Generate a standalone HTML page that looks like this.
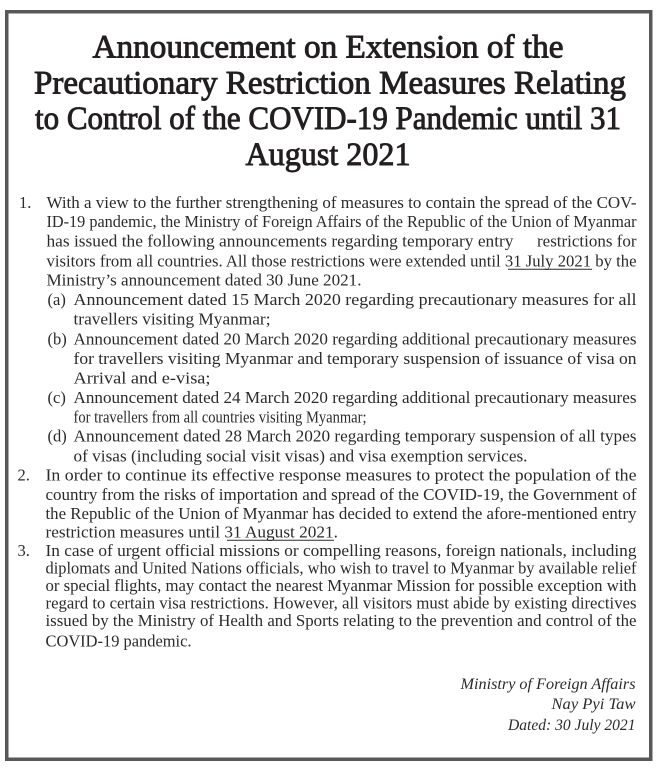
<!DOCTYPE html>
<html>
<head>
<meta charset="utf-8">
<style>
  html, body { margin: 0; padding: 0; background: #ffffff; }
  svg { display: block; }
  .t { font-family: "Liberation Serif", serif; font-size: 33px; fill: #231f20; stroke: #231f20; stroke-width: 0.9px; }
  .b { font-family: "Liberation Serif", serif; font-size: 16.5px; fill: #2b2b2b; }
  .n { font-family: "Liberation Serif", serif; font-size: 16.5px; fill: #2b2b2b; }
  .s { font-family: "Liberation Serif", serif; font-size: 16px; font-style: italic; fill: #2b2b2b; }
</style>
</head>
<body>
<svg width="666" height="777" viewBox="0 0 666 777" xmlns="http://www.w3.org/2000/svg">
  <rect x="0" y="0" width="666" height="777" fill="#ffffff"/>
  <rect x="6.75" y="11.75" width="644" height="747.5" fill="#ffffff" stroke="#58585a" stroke-width="3.5"/>

  <!-- Title -->
  <text class="t" x="92.5" y="57.3" textLength="471" lengthAdjust="spacingAndGlyphs">Announcement on Extension of the</text>
  <text class="t" x="34" y="93.3" textLength="592" lengthAdjust="spacingAndGlyphs">Precautionary Restriction Measures Relating</text>
  <text class="t" x="35" y="129" textLength="586" lengthAdjust="spacingAndGlyphs">to Control of the COVID-19 Pandemic until 31</text>
  <text class="t" x="245.5" y="165" textLength="165" lengthAdjust="spacingAndGlyphs">August 2021</text>

  <!-- Paragraph 1 -->
  <text class="n" x="19" y="208">1.</text>
  <text class="b" x="46.5" y="208" textLength="590" lengthAdjust="spacingAndGlyphs">With a view to the further strengthening of measures to contain the spread of the COV-</text>
  <text class="b" x="46.5" y="227" textLength="590" lengthAdjust="spacingAndGlyphs">ID-19 pandemic, the Ministry of Foreign Affairs of the Republic of the Union of Myanmar</text>
  <text class="b" x="46.5" y="246.5" textLength="467" lengthAdjust="spacingAndGlyphs">has issued the following announcements regarding temporary entry</text>
  <text class="b" x="537" y="246.5" textLength="99.5" lengthAdjust="spacingAndGlyphs">restrictions for</text>
  <text class="b" x="46.5" y="266.5" textLength="590" lengthAdjust="spacingAndGlyphs">visitors from all countries. All those restrictions were extended until 31 July 2021 by the</text>
  <line x1="508" y1="269.3" x2="592" y2="269.3" stroke="#2b2b2b" stroke-width="1"/>
  <text class="b" x="46.5" y="285.5" textLength="315" lengthAdjust="spacingAndGlyphs">Ministry’s announcement dated 30 June 2021.</text>

  <text class="n" x="47.5" y="305">(a)</text>
  <text class="b" x="73.5" y="305" textLength="563" lengthAdjust="spacingAndGlyphs">Announcement dated 15 March 2020 regarding precautionary measures for all</text>
  <text class="b" x="73.5" y="324.5" textLength="197" lengthAdjust="spacingAndGlyphs">travellers visiting Myanmar;</text>

  <text class="n" x="47.5" y="344.5">(b)</text>
  <text class="b" x="73.5" y="344.5" textLength="563" lengthAdjust="spacingAndGlyphs">Announcement dated 20 March 2020 regarding additional precautionary measures</text>
  <text class="b" x="73.5" y="364" textLength="563" lengthAdjust="spacingAndGlyphs">for travellers visiting Myanmar and temporary suspension of issuance of visa on</text>
  <text class="b" x="73.5" y="383.5" textLength="137" lengthAdjust="spacingAndGlyphs">Arrival and e-visa;</text>

  <text class="n" x="47.5" y="403">(c)</text>
  <text class="b" x="73.5" y="403" textLength="563" lengthAdjust="spacingAndGlyphs">Announcement dated 24 March 2020 regarding additional precautionary measures</text>
  <text class="b" x="73.5" y="422.3" textLength="293" lengthAdjust="spacingAndGlyphs">for travellers from all countries visiting Myanmar;</text>

  <text class="n" x="47.5" y="441.7">(d)</text>
  <text class="b" x="73.5" y="441.7" textLength="563" lengthAdjust="spacingAndGlyphs">Announcement dated 28 March 2020 regarding temporary suspension of all types</text>
  <text class="b" x="73.5" y="461.5" textLength="454" lengthAdjust="spacingAndGlyphs">of visas (including social visit visas) and visa exemption services.</text>

  <!-- Paragraph 2 -->
  <text class="n" x="17.5" y="480.7">2.</text>
  <text class="b" x="45.5" y="480.7" textLength="591" lengthAdjust="spacingAndGlyphs">In order to continue its effective response measures to protect the population of the</text>
  <text class="b" x="45.5" y="500" textLength="591" lengthAdjust="spacingAndGlyphs">country from the risks of importation and spread of the COVID-19, the Government of</text>
  <text class="b" x="45.5" y="519" textLength="591" lengthAdjust="spacingAndGlyphs">the Republic of the Union of Myanmar has decided to extend the afore-mentioned entry</text>
  <text class="b" x="45.5" y="537.5" textLength="292.5" lengthAdjust="spacingAndGlyphs">restriction measures until 31 August 2021.</text>
  <line x1="227" y1="540.3" x2="334" y2="540.3" stroke="#2b2b2b" stroke-width="1"/>

  <!-- Paragraph 3 -->
  <text class="n" x="17.5" y="556">3.</text>
  <text class="b" x="45.5" y="556" textLength="591" lengthAdjust="spacingAndGlyphs">In case of urgent official missions or compelling reasons, foreign nationals,  including</text>
  <text class="b" x="45.5" y="573.5" textLength="591" lengthAdjust="spacingAndGlyphs">diplomats and United Nations officials, who wish to travel to Myanmar by available relief</text>
  <text class="b" x="45.5" y="591" textLength="591" lengthAdjust="spacingAndGlyphs">or special flights, may contact the nearest Myanmar Mission for possible exception with</text>
  <text class="b" x="45.5" y="608.5" textLength="591" lengthAdjust="spacingAndGlyphs">regard to certain visa restrictions. However, all visitors must abide by existing directives</text>
  <text class="b" x="45.5" y="626" textLength="591" lengthAdjust="spacingAndGlyphs">issued by the Ministry of Health and Sports relating to the prevention and control of the</text>
  <text class="b" x="45.5" y="646.5" textLength="146" lengthAdjust="spacingAndGlyphs">COVID-19 pandemic.</text>

  <!-- Signature -->
  <text class="s" x="460.5" y="689" textLength="175" lengthAdjust="spacingAndGlyphs">Ministry of Foreign Affairs</text>
  <text class="s" x="551.5" y="709" textLength="84" lengthAdjust="spacingAndGlyphs">Nay Pyi Taw</text>
  <text class="s" x="508" y="730" textLength="127.5" lengthAdjust="spacingAndGlyphs">Dated:  30 July 2021</text>
</svg>
</body>
</html>
